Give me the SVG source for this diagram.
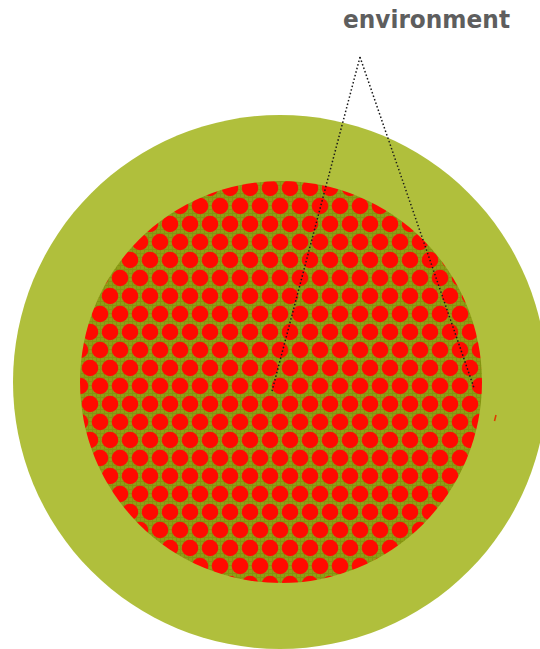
<svg xmlns="http://www.w3.org/2000/svg" width="540" height="649" viewBox="0 0 540 649">
  <style>
    .label { font-family: "DejaVu Sans", "Liberation Sans", sans-serif; font-weight: bold; font-size: 24px; fill: #5e5e5e; }
    .pointer { fill: none; stroke: #1a1a1a; stroke-width: 1.5; stroke-dasharray: 1.5 2.2; }
  </style>
  <defs>
    <pattern id="weave" patternUnits="userSpaceOnUse" width="4" height="4">
      <rect width="4" height="4" fill="#8e9e16"/>
      <path d="M0 0.5H4M0.5 0V4" stroke="#7d8c0c" stroke-width="1" opacity="0.6"/>
    </pattern>
    <pattern id="dots" patternUnits="userSpaceOnUse" x="0" y="161" width="20" height="36">
      <rect width="20" height="36" fill="url(#weave)"/>
      <circle cx="0" cy="9" r="8.3" fill="#ff0a00"/>
      <circle cx="20" cy="9" r="8.3" fill="#ff0a00"/>
      <circle cx="10" cy="27" r="8.3" fill="#ff0a00"/>
    </pattern>
  </defs>
  <rect width="540" height="649" fill="#ffffff"/>
  <g id="environment-ring">
    <circle cx="280" cy="382" r="267" fill="#b0bf3c"/>
    <path d="M494.5 421 L496 415" stroke="#e03a00" stroke-width="1.5"/>
  </g>
  <g id="cell-core">
    <circle cx="281" cy="382" r="201" fill="url(#dots)"/>
  </g>
  <g id="label-environment">
    <text class="label" x="343" y="28" textLength="167" lengthAdjust="spacingAndGlyphs">environment</text>
  </g>
  <g id="connectors">
    <line class="pointer" x1="360" y1="57" x2="272" y2="391"/>
    <line class="pointer" x1="360" y1="57" x2="474" y2="388"/>
  </g>
</svg>
